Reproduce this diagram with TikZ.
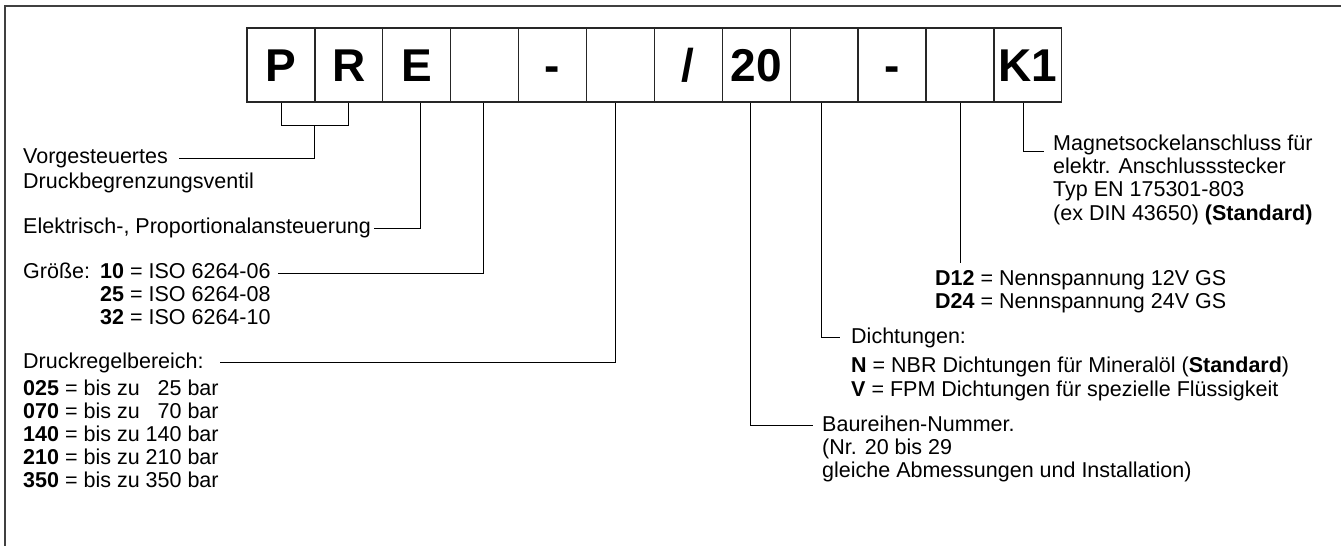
\documentclass[tikz,border=0pt]{standalone}
\usepackage{fontspec}
\setmainfont{Liberation Sans}
\usetikzlibrary{calc}

\tikzset{
  cell/.style={draw=black!85, line width=1.3pt, minimum width=67.9pt, minimum height=74pt,
    inner sep=0pt, text height=33pt, text depth=0pt, font=\fontsize{46}{46}\selectfont\bfseries},
  lbl/.style={anchor=base west, inner sep=0pt, text height=15pt, text depth=4.5pt,
    font=\fontsize{21.5}{23}\selectfont},
  leader/.style={line width=0.9pt, black},
}

\begin{document}
\begin{tikzpicture}[x=1pt,y=-1pt]
\useasboundingbox (0,0) rectangle (1341,546);
% frame
\draw[line width=2pt, black!75] (5,546) -- (5,6) -- (1341,6);
% code boxes
\foreach \t [count=\i] in {P,R,E,{},-,{},/,20,{},-,{},K1}
  \node[cell] (c\i) at ({247+67.9*(\i-0.5)},65) {\t};

% left labels
\node[lbl] (vg1) at (23,163.5) {Vorgesteuertes};
\node[lbl] (vg2) at (23,188.5) {Druckbegrenzungsventil};
\node[lbl] (el) at (23,233.5) {Elektrisch-, Proportionalansteuerung};
\node[lbl] (gr) at (23,278.5) {Größe:};
\node[lbl] (g10) at (100,278.5) {\textbf{10} = ISO 6264-06};
\node[lbl] (g25) at (100,301.5) {\textbf{25} = ISO 6264-08};
\node[lbl] (g32) at (100,324.5) {\textbf{32} = ISO 6264-10};
\node[lbl] (dr) at (23,368) {Druckregelbereich:};
\foreach \code/\upto [count=\i] in {025/\phantom{1}25,070/\phantom{1}70,140/140,210/210,350/350}
  \node[lbl] (bar\i) at (23,{372.5+23*\i}) {\textbf{\code} = bis zu \upto\ bar};

% right labels
\node[lbl] (mag1) at (1053,150.5) {Magnetsockelanschluss für};
\node[lbl] (mag2) at (1053,173.5) {elektr. Anschlussstecker};
\node[lbl] (mag3) at (1053,196.5) {Typ EN 175301-803};
\node[lbl] (mag4) at (1053,220) {(ex DIN 43650) \textbf{(Standard)}};
\node[lbl] (d12) at (935,285) {\textbf{D12} = Nennspannung 12V GS};
\node[lbl] (d24) at (935,308.5) {\textbf{D24} = Nennspannung 24V GS};
\node[lbl] (dicht) at (851,343) {Dichtungen:};
\node[lbl] (nbr) at (851,372) {\textbf{N} = NBR Dichtungen für Mineralöl (\textbf{Standard})};
\node[lbl] (fpm) at (851,396) {\textbf{V} = FPM Dichtungen für spezielle Flüssigkeit};
\node[lbl] (bau1) at (822,431) {Baureihen-Nummer.};
\node[lbl] (bau2) at (822,454) {(Nr. 20 bis 29};
\node[lbl] (bau3) at (822,477) {gleiche Abmessungen und Installation)};

% leaders
\draw[leader] (c1.south) -- ++(0,23) -| (c2.south);
\draw[leader] ($(c1.south)!.5!(c2.south)+(0,23)$) |- ([xshift=11pt]vg1.east);
\draw[leader] ([xshift=4pt]c3.south) |- ([xshift=3pt]el.east);
\draw[leader] ([xshift=-1pt]c4.south) |- ([xshift=7pt]g10.east);
\draw[leader] ([xshift=-5pt]c6.south) |- ([xshift=16pt]dr.east);
\draw[leader] ([xshift=-6pt]c8.south) |- ([xshift=-9pt]bau1.west);
\draw[leader] ([xshift=-3pt]c9.south) |- ([xshift=-11pt]dicht.west);
\draw[leader] (c11.south) -- ([yshift=7pt]c11.south |- d12.north);
\draw[leader] ([xshift=-4pt]c12.south) |- ([xshift=-9pt,yshift=-1pt]mag1.base west);
\end{tikzpicture}
\end{document}
